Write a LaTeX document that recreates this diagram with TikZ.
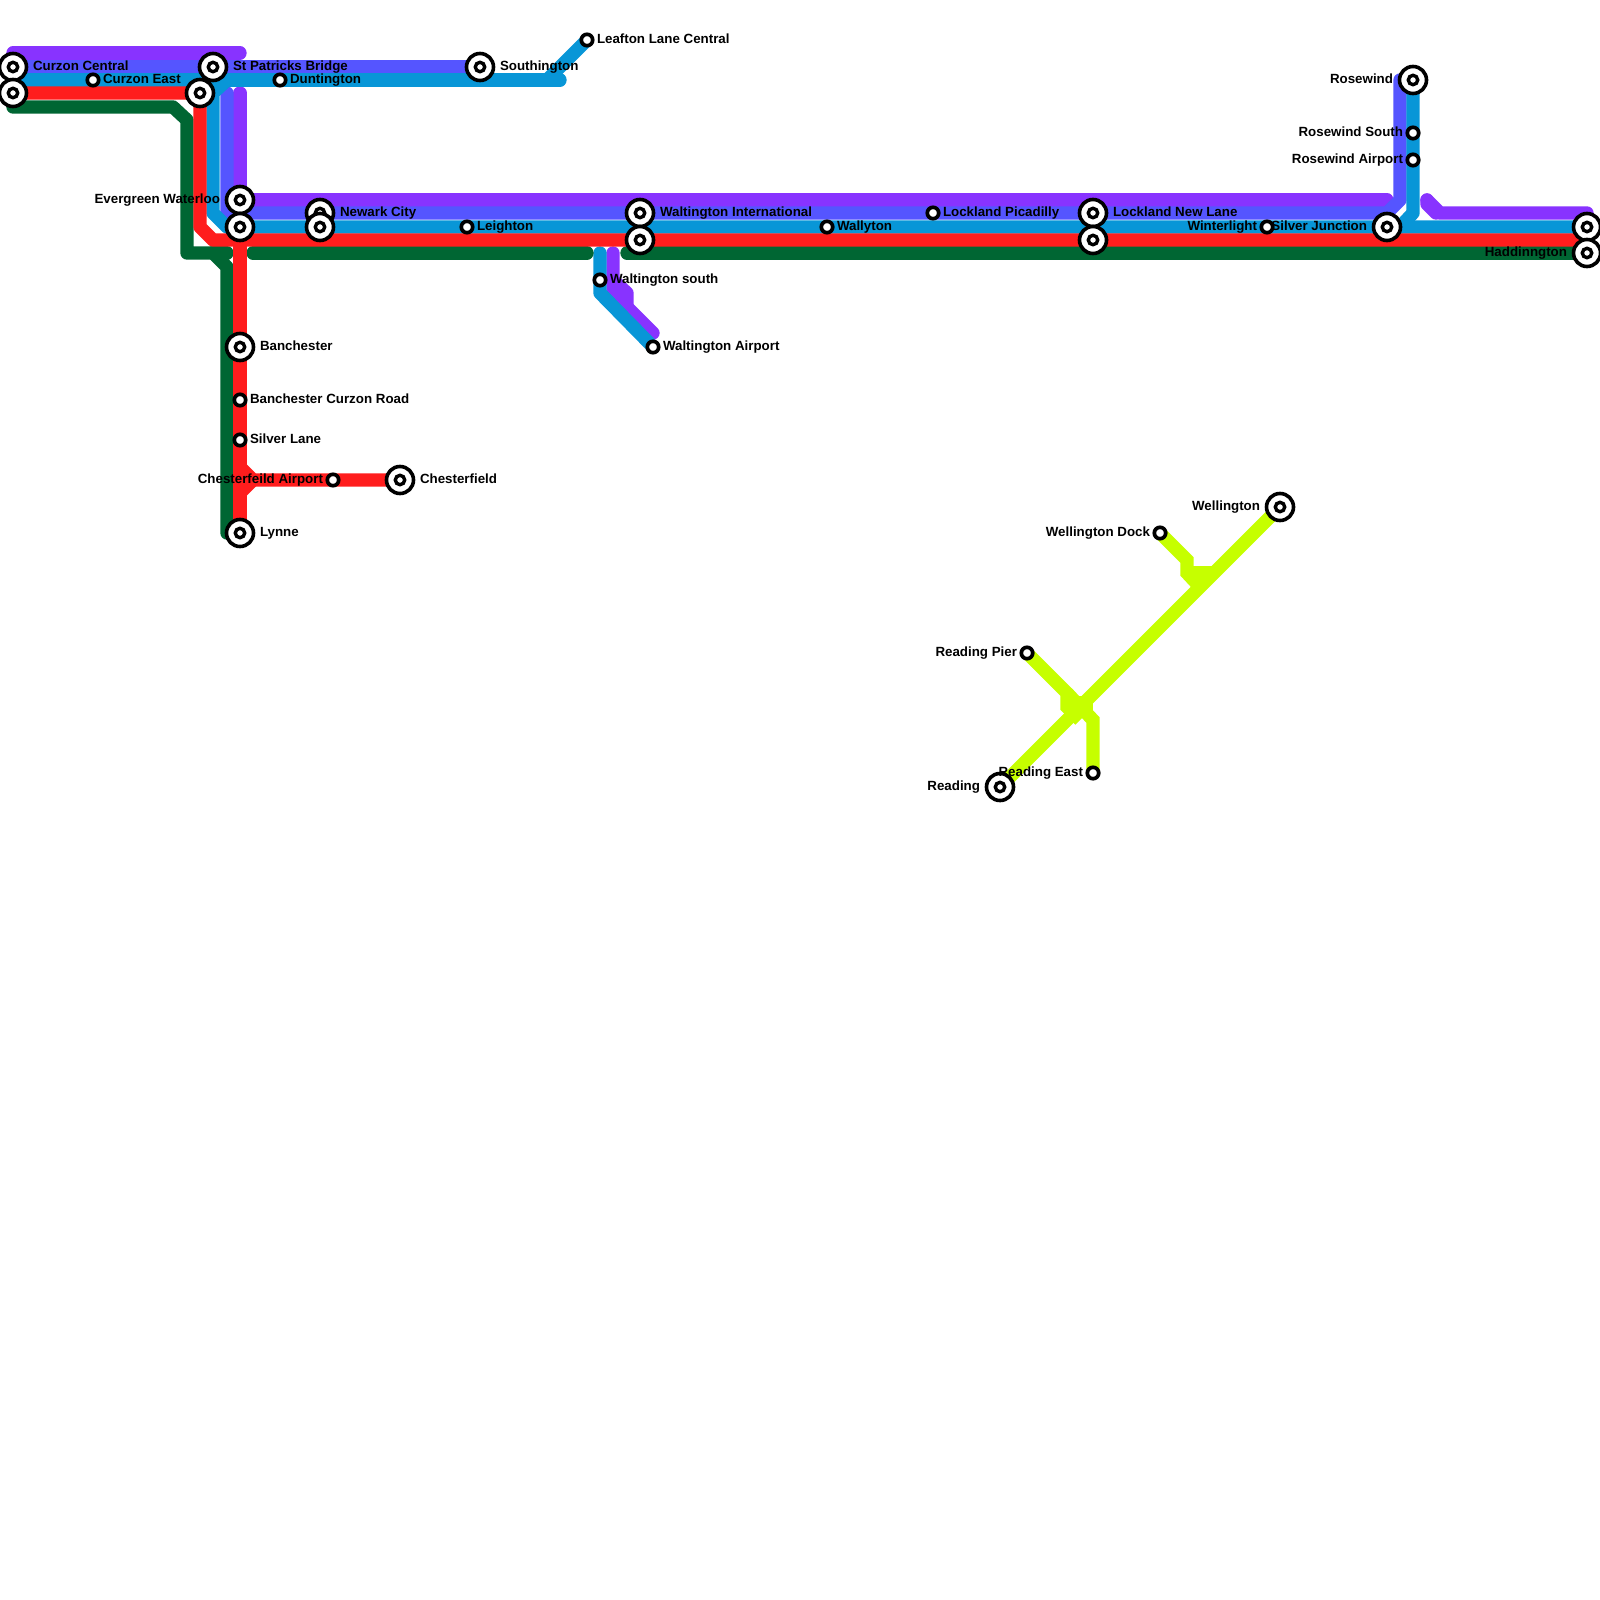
\documentclass[tikz,border=0pt]{standalone}
\usepackage{fontspec}
\setmainfont{Liberation Sans}[BoldFont={Liberation Sans Bold}]
\definecolor{cpurple}{HTML}{8833FF}
\definecolor{cindigo}{HTML}{5555FF}
\definecolor{cblue}{HTML}{0896D7}
\definecolor{cred}{HTML}{FF1D1D}
\definecolor{cgreen}{HTML}{006633}
\definecolor{clime}{HTML}{C6FF00}
\pgfdeclarelayer{front}
\pgfsetlayers{main,front}
\tikzset{
  x=0.01cm,y=-0.01cm,
  metro/.style={line width=0.1333cm,line cap=round,line join=round},
  flat/.style={line width=0.1333cm,line cap=butt},
  inter/.style={circle,draw=black,fill=white,line width=0.036cm,minimum size=0.27cm,inner sep=0pt,outer sep=0pt,
    path picture={\draw[black,line width=0.034cm] (path picture bounding box.center) circle (0.047cm);}},
  halt/.style={circle,draw=black,fill=white,line width=0.037cm,minimum size=0.114cm,inner sep=0pt,outer sep=0pt},
  lab/.style={inner sep=0pt,outer sep=0pt,font=\fontsize{3.79pt}{4.5pt}\selectfont\bfseries,text=black},
  labIE/.style={lab,anchor=base west,xshift=0.2cm,yshift=-0.03cm},
  labIW/.style={lab,anchor=base east,xshift=-0.2cm,yshift=-0.03cm},
  labHE/.style={lab,anchor=base west,xshift=0.1cm,yshift=-0.03cm},
  labHW/.style={lab,anchor=base east,xshift=-0.1cm,yshift=-0.03cm},
}
\begin{document}
\begin{tikzpicture}
\useasboundingbox (0,0) rectangle (1600,1600);
\begin{pgfonlayer}{front}
% interchange stations
\node[inter] (curzonc) at (13,67) {};
\node[inter] (curzonr) at (13,93) {};
\node[inter] (stpat) at (213,67) {};
\node[inter] (stpatr) at (200,93) {};
\node[inter] (south) at (480,67) {};
\node[inter] (everg) at (240,200) {};
\node[inter] (evergb) at (240,227) {};
\node[inter] (newark) at (320,213) {};
\node[inter] (newarkb) at (320,227) {};
\node[inter] (waltint) at (640,213) {};
\node[inter] (waltintr) at (640,240) {};
\node[inter] (lockn) at (1093,213) {};
\node[inter] (locknr) at (1093,240) {};
\node[inter] (silver) at (1387,227) {};
\node[inter] (rosew) at (1413,80) {};
\node[inter] (haddb) at (1587,227) {};
\node[inter] (hadd) at (1587,253) {};
\node[inter] (banch) at (240,347) {};
\node[inter] (chest) at (400,480) {};
\node[inter] (lynne) at (240,533) {};
\node[inter] (welli) at (1280,507) {};
\node[inter] (readi) at (1000,787) {};
% small stations
\node[halt] (curzone) at (93,80) {};
\node[halt] (dunt) at (280,80) {};
\node[halt] (leaft) at (587,40) {};
\node[halt] (leigh) at (467,227) {};
\node[halt] (wally) at (827,227) {};
\node[halt] (lockp) at (933,213) {};
\node[halt] (winter) at (1267,227) {};
\node[halt] (rosews) at (1413,133) {};
\node[halt] (rosewa) at (1413,160) {};
\node[halt] (banchc) at (240,400) {};
\node[halt] (silvl) at (240,440) {};
\node[halt] (chesta) at (333,480) {};
\node[halt] (walts) at (600,280) {};
\node[halt] (walta) at (653,347) {};
\node[halt] (wellid) at (1160,533) {};
\node[halt] (readp) at (1027,653) {};
\node[halt] (reade) at (1093,773) {};
% labels
\node[labIE] (t1) at (curzonc.center) {Curzon Central};
\node[labHE] (t2) at (curzone.center) {Curzon East};
\node[labIE] (t3) at (stpat.center) {St Patricks Bridge};
\node[labHE] (t4) at (dunt.center) {Duntington};
\node[labIE] (t5) at (south.center) {Southington};
\node[labHE] (t6) at (leaft.center) {Leafton Lane Central};
\node[labIW] (t7) at (everg.center) {Evergreen Waterloo};
\node[labIE] (t8) at (newark.center) {Newark City};
\node[labHE] (t9) at (leigh.center) {Leighton};
\node[labIE] (t10) at (waltint.center) {Waltington International};
\node[labHE] (t11) at (wally.center) {Wallyton};
\node[labHE] (t12) at (lockp.center) {Lockland Picadilly};
\node[labIE] (t13) at (lockn.center) {Lockland New Lane};
\node[labHW] (t14) at (winter.center) {Winterlight};
\node[labIW] (t15) at (silver.center) {Silver Junction};
\node[labIW] (t16) at (rosew.center) {Rosewind};
\node[labHW] (t17) at (rosews.center) {Rosewind South};
\node[labHW] (t18) at (rosewa.center) {Rosewind Airport};
\node[labIW] (t19) at (hadd.center) {Haddinngton};
\node[labIE] (t20) at (banch.center) {Banchester};
\node[labHE] (t21) at (banchc.center) {Banchester Curzon Road};
\node[labHE] (t22) at (silvl.center) {Silver Lane};
\node[labHW] (t23) at (chesta.center) {Chesterfeild Airport};
\node[labIE] (t24) at (chest.center) {Chesterfield};
\node[labIE] (t25) at (lynne.center) {Lynne};
\node[labHE] (t26) at (walts.center) {Waltington south};
\node[labHE] (t27) at (walta.center) {Waltington Airport};
\node[labIW] (t28) at (welli.center) {Wellington};
\node[labHW] (t29) at (wellid.center) {Wellington Dock};
\node[labHW] (t30) at (readp.center) {Reading Pier};
\node[labIW] (t31) at (readi.center) {Reading};
\node[labHW] (t32) at (reade.center) {Reading East};
\end{pgfonlayer}
% way points
\coordinate (pa) at (13,53);
\coordinate (pb) at (240,53);
\coordinate (pc) at (240,93);
\coordinate (pd) at (240,200);
\coordinate (pe) at (1387,200);
\coordinate (pf) at (1427,200);
\coordinate (pg) at (1440,213);
\coordinate (ph) at (1587,213);
\coordinate (pi) at (1427,204);
\coordinate (pj) at (1436,213);
\coordinate (pk) at (613,253);
\coordinate (pl) at (613,280);
\coordinate (pm) at (627,293);
\coordinate (pn) at (627,307);
\coordinate (po) at (653,333);
\coordinate (pp) at (613,293);
\coordinate (ia) at (227,93);
\coordinate (ib) at (227,213);
\coordinate (ic) at (1387,213);
\coordinate (id) at (1400,200);
\coordinate (ie) at (1400,80);
\coordinate (ba) at (13,80);
\coordinate (bb) at (560,80);
\coordinate (bc) at (547,80);
\coordinate (bd) at (227,80);
\coordinate (be) at (213,93);
\coordinate (bf) at (213,213);
\coordinate (bg) at (227,227);
\coordinate (bh) at (1413,213);
\coordinate (bi) at (1400,227);
\coordinate (bj) at (600,253);
\coordinate (bk) at (600,293);
\coordinate (ra) at (200,227);
\coordinate (rb) at (213,240);
\coordinate (rc) at (240,240);
\coordinate (rd) at (240,467);
\coordinate (re) at (253,480);
\coordinate (rf) at (240,493);
\coordinate (ga) at (13,107);
\coordinate (gb) at (173,107);
\coordinate (gc) at (187,120);
\coordinate (gd) at (187,253);
\coordinate (ge) at (213,253);
\coordinate (gf) at (227,267);
\coordinate (gg) at (227,533);
\coordinate (gh) at (227,253);
\coordinate (gi) at (253,253);
\coordinate (gj) at (587,253);
\coordinate (gk) at (627,253);
\coordinate (la) at (1067,693);
\coordinate (lb) at (1067,707);
\coordinate (lc) at (1080,720);
\coordinate (ld) at (1093,720);
\coordinate (le) at (1093,703);
\coordinate (lf) at (1187,560);
\coordinate (lg) at (1187,573);
\coordinate (lh) at (1200,587);
\coordinate (li) at (1213,573);
% purple
\draw[metro,cpurple] (pa) -- (pb);
\draw[metro,cpurple] (pc) -- (pd) -- (pe);
\draw[metro,cpurple] (pf) -- (pg) -- (ph);
\draw[metro,cpurple] (pf) -- (pi) -- (pj);
\draw[metro,cpurple] (pk) -- (pp) -- (pn) -- (po);
\draw[metro,cpurple] (pl) -- (pm) -- (pn);
% indigo
\draw[metro,cindigo] (curzonc.center) -- (south.center);
\draw[metro,cindigo] (ia) -- (ib) -- (ic) -- (id) -- (ie);
% blue
\draw[metro,cblue] (ba) -- (bb);
\draw[metro,cblue] (bc) -- (leaft.center);
\draw[metro,cblue] (bd) -- (be) -- (bf) -- (bg) -- (haddb.center);
\draw[metro,cblue] (rosew.center) -- (bh) -- (bi);
\draw[metro,cblue] (bj) -- (bk) -- (walta.center);
% green
\draw[metro,cgreen] (ga) -- (gb) -- (gc) -- (gd) -- (ge) -- (gf) -- (gg);
\draw[metro,cgreen] (ge) -- (gh);
\draw[metro,cgreen] (gi) -- (gj);
\draw[metro,cgreen] (gk) -- (hadd.center);
% red
\draw[metro,cred] (curzonr.center) -- (stpatr.center) -- (ra) -- (rb) -- (haddb.center |- rb);
\draw[metro,cred] (rc) -- (lynne.center);
\draw[metro,cred] (rd) -- (re) -- (chest.center);
\draw[metro,cred] (rf) -- (re);
% lime
\draw[flat,clime] (readi.center) -- (welli.center);
\draw[flat,clime] (readp.center) -- (la) -- (lb) -- (lc);
\draw[flat,clime] (reade.center) -- (ld) -- (la);
\draw[flat,clime] (lb |- le) -- (le);
\draw[flat,clime] (wellid.center) -- (lf) -- (lg) -- (lh);
\draw[flat,clime] (lg) -- (li);
\end{tikzpicture}
\end{document}
